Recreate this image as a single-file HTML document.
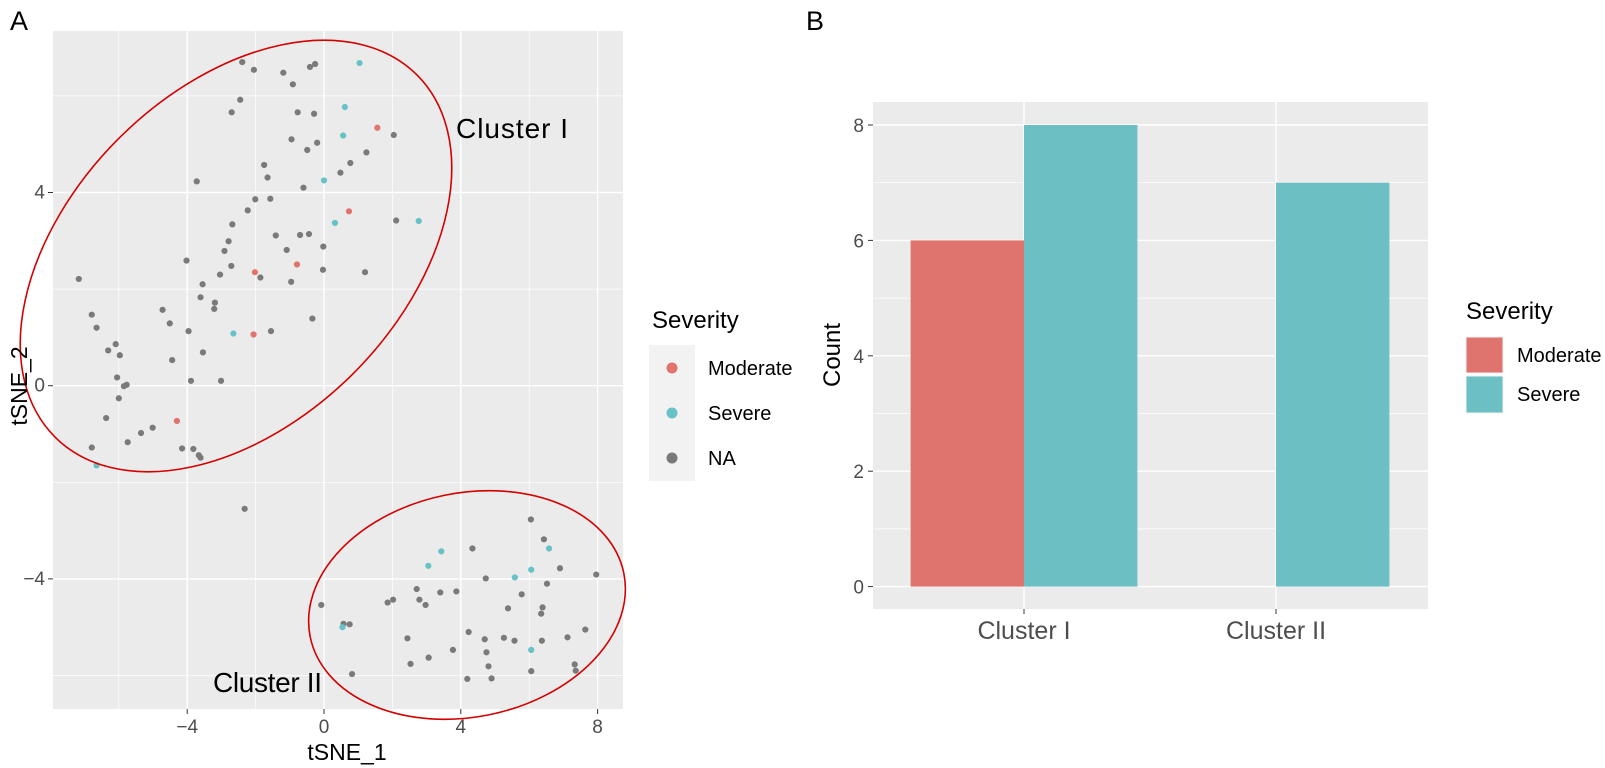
<!DOCTYPE html>
<html><head><meta charset="utf-8"><style>
html,body{margin:0;padding:0;background:#fff;}
svg{display:block;font-family:"Liberation Sans",sans-serif;}
</style></head><body>
<svg id="fig" width="1605" height="768" viewBox="0 0 1605 768" xmlns="http://www.w3.org/2000/svg">
<text x="10" y="30" font-size="27" fill="#000">A</text>
<text x="806" y="30" font-size="27" fill="#000">B</text>
<rect x="53" y="31" width="570" height="678" fill="#EBEBEB"/>
<g id="gA"></g>
<g id="ptsA"></g>
<ellipse cx="236" cy="256" rx="256" ry="166" transform="rotate(-45 236 256)" fill="none" stroke="#D40000" stroke-width="1.6"/>
<ellipse cx="467" cy="605" rx="160" ry="112" transform="rotate(-11.5 467 605)" fill="none" stroke="#D40000" stroke-width="1.6"/>
<text x="456" y="138" font-size="28" fill="#000" textLength="112">Cluster I</text>
<text x="213" y="692" font-size="28" fill="#000" textLength="109">Cluster II</text>
<g id="axA"></g>
<text x="347" y="760" font-size="23" fill="#000" text-anchor="middle">tSNE_1</text>
<text transform="translate(27 386) rotate(-90)" font-size="23" fill="#000" text-anchor="middle">tSNE_2</text>
<g>
<text x="652" y="328" font-size="24" fill="#000">Severity</text>
<rect x="649" y="345" width="46" height="136" fill="#F2F2F2"/>
<circle cx="672" cy="368" r="5.5" fill="#E0736B"/>
<circle cx="672" cy="413" r="5.5" fill="#66C2C6"/>
<circle cx="672" cy="458" r="5.5" fill="#7A7A7A"/>
<text x="708" y="375" font-size="20" fill="#000">Moderate</text>
<text x="708" y="420" font-size="20" fill="#000">Severe</text>
<text x="708" y="465" font-size="20" fill="#000">NA</text>
</g>
<rect x="873" y="102" width="555" height="507" fill="#EBEBEB"/>
<g id="gB"></g>
<g id="barsB"></g>
<g id="axB"></g>
<text transform="translate(840 355) rotate(-90)" font-size="24" fill="#000" text-anchor="middle">Count</text>
<g>
<text x="1466" y="319" font-size="24" fill="#000">Severity</text>
<rect x="1466" y="337" width="37" height="36" fill="#DF746E" stroke="#F2F2F2"/>
<rect x="1466" y="376" width="37" height="37" fill="#6CBFC3" stroke="#F2F2F2"/>
<text x="1517" y="362" font-size="20" fill="#000">Moderate</text>
<text x="1517" y="401" font-size="20" fill="#000">Severe</text>
</g>
</svg>
<script>
// ---- Panel A data (tSNE coordinates) ----
const grayX = [-2.39,-2.05,-1.19,-0.91,-0.41,-0.26,-2.45,-2.70,-0.77,-0.29,-0.95,-0.20,-0.49,2.04,1.24,0.77,0.48,-1.75,-1.65,-3.72,-0.60,-2.01,-1.57,-2.23,-2.68,2.11,-1.41,-0.70,-0.44,-2.79,-2.91,-1.09,-0.02,-4.02,
 -7.17,-2.71,-3.04,-3.55,-1.86,-0.96,-0.03,1.20,-3.61,-3.19,-3.21,-4.72,-6.79,-6.65,-4.51,-3.96,-0.34,-1.55,-6.09,-6.31,-5.97,-3.54,-4.44,-6.05,-3.89,-3.01,-5.85,-5.77,-6.00,-6.37,-5.01,-5.35,-5.74,-6.79,-4.15,-3.82,-3.66,-3.61,-2.32,
 6.05,6.43,4.34,6.90,7.96,4.73,6.52,5.78,2.71,3.40,3.87,-0.08,1.86,2.02,2.79,2.97,5.38,6.39,6.35,0.57,0.75,7.64,4.23,2.44,4.70,5.26,5.57,6.37,7.12,3.77,4.75,3.06,2.53,4.81,0.82,4.19,4.90,6.06,7.33,7.36];
const grayY = [6.70,6.54,6.48,6.24,6.60,6.66,5.92,5.66,5.66,5.63,5.10,5.03,4.88,5.19,4.83,4.61,4.41,4.57,4.31,4.23,4.10,3.86,3.87,3.63,3.34,3.42,3.11,3.12,3.14,2.99,2.79,2.81,2.88,2.59,
 2.21,2.48,2.30,2.10,2.24,2.15,2.40,2.35,1.83,1.72,1.59,1.57,1.47,1.20,1.29,1.13,1.39,1.13,0.86,0.73,0.63,0.69,0.53,0.17,0.10,0.10,-0.01,0.02,-0.26,-0.67,-0.87,-0.98,-1.17,-1.28,-1.30,-1.31,-1.44,-1.49,-2.55,
 -2.77,-3.18,-3.37,-3.78,-3.91,-3.99,-4.10,-4.32,-4.21,-4.28,-4.26,-4.54,-4.49,-4.43,-4.43,-4.54,-4.61,-4.59,-4.72,-4.93,-4.94,-5.05,-5.10,-5.23,-5.25,-5.22,-5.28,-5.28,-5.21,-5.47,-5.52,-5.63,-5.76,-5.81,-5.97,-6.07,-6.06,-5.91,-5.77,-5.90];
const severeX = [1.04,0.61,0.56,0.00,0.32,2.77,-2.65,-6.65,3.43,3.05,6.58,6.06,5.58,0.54,6.06];
const severeY = [6.68,5.77,5.18,4.25,3.37,3.41,1.08,-1.65,-3.43,-3.73,-3.37,-3.81,-3.97,-5.00,-5.47];
const moderateX = [1.56,0.73,-0.79,-2.02,-2.06,-4.30];
const moderateY = [5.34,3.61,2.51,2.35,1.06,-0.73];
const xTicksA = [-4,0,4,8];
const yTicksA = [-4,0,4];
const xMinorA = [-6,-2,2,6];
const yMinorA = [-6,-2,2,6];

// ---- Panel B data ----
const categories = ["Cluster I","Cluster II"];
const moderateCounts = [6,0];
const severeCounts = [8,7];
const yTicksB = [0,2,4,6,8];
const yMinorB = [1,3,5,7];

const NS = "http://www.w3.org/2000/svg";
function mk(tag, attrs, parent){const e=document.createElementNS(NS,tag);for(const k in attrs)e.setAttribute(k,attrs[k]);parent.appendChild(e);return e;}

// scales A
const xA = v => 324 + v*34.2;
const yA = v => 385.7 - v*48.3;
const A = {l:53,t:31,r:623,b:709};
const gA = document.getElementById('gA');
xMinorA.forEach(v=>{const l=mk('line',{x1:xA(v),x2:xA(v),y1:A.t,y2:A.b,stroke:'#fff','stroke-width':0.7},gA);

});
yMinorA.forEach(v=>{const l=mk('line',{x1:A.l,x2:A.r,y1:yA(v),y2:yA(v),stroke:'#fff','stroke-width':0.7},gA);

});
xTicksA.forEach(v=>{const l=mk('line',{x1:xA(v),x2:xA(v),y1:A.t,y2:A.b,stroke:'#fff','stroke-width':1.4},gA);

});
yTicksA.forEach(v=>{const l=mk('line',{x1:A.l,x2:A.r,y1:yA(v),y2:yA(v),stroke:'#fff','stroke-width':1.4},gA);

});
const axA = document.getElementById('axA');
xTicksA.forEach(v=>{const t=mk('line',{x1:xA(v),x2:xA(v),y1:A.b,y2:A.b+5,stroke:'#333','stroke-width':1},axA);


const s=mk('text',{x:xA(v),y:A.b+24,'font-size':19,fill:'#4D4D4D','text-anchor':'middle'},axA);s.textContent=(v<0?'\u2212'+(-v):v);

});
yTicksA.forEach(v=>{const t=mk('line',{x1:A.l-5,x2:A.l,y1:yA(v),y2:yA(v),stroke:'#333','stroke-width':1},axA);


const s=mk('text',{x:A.l-8,y:yA(v)+6,'font-size':19,fill:'#4D4D4D','text-anchor':'end'},axA);s.textContent=(v<0?'\u2212'+(-v):v);

});
const ptsA = document.getElementById('ptsA');
function drawPts(xs,ys,col,name){xs.forEach((v,i)=>{const c=mk('circle',{cx:xA(v),cy:yA(ys[i]),r:3.1,fill:col},ptsA);

});}
drawPts(grayX,grayY,'#7A7A7A','point-na');
drawPts(severeX,severeY,'#66C2C6','point-severe');
drawPts(moderateX,moderateY,'#E0736B','point-moderate');

// scales B
const B = {l:873,t:102,r:1428,b:609};
const yB = v => 586.6 - v*57.7;
const xB = i => 1024 + i*252;
const bw = 0.45*252;
const gB = document.getElementById('gB');
yMinorB.forEach(v=>{const l=mk('line',{x1:B.l,x2:B.r,y1:yB(v),y2:yB(v),stroke:'#fff','stroke-width':0.7},gB);

});
yTicksB.forEach(v=>{const l=mk('line',{x1:B.l,x2:B.r,y1:yB(v),y2:yB(v),stroke:'#fff','stroke-width':1.4},gB);

});
categories.forEach((c,i)=>{const l=mk('line',{x1:xB(i),x2:xB(i),y1:B.t,y2:B.b,stroke:'#fff','stroke-width':1.4},gB);

});
const barsB = document.getElementById('barsB');
categories.forEach((c,i)=>{
 if(moderateCounts[i]>0){const r=mk('rect',{x:xB(i)-bw,y:yB(moderateCounts[i]),width:bw,height:yB(0)-yB(moderateCounts[i]),fill:'#DF746E'},barsB);
 
 }
 if(severeCounts[i]>0){const r=mk('rect',{x:xB(i),y:yB(severeCounts[i]),width:bw,height:yB(0)-yB(severeCounts[i]),fill:'#6CBFC3'},barsB);
 
 }
});
const axB = document.getElementById('axB');
yTicksB.forEach(v=>{const t=mk('line',{x1:B.l-5,x2:B.l,y1:yB(v),y2:yB(v),stroke:'#333','stroke-width':1},axB);


const s=mk('text',{x:B.l-9,y:yB(v)+7,'font-size':19,fill:'#4D4D4D','text-anchor':'end'},axB);s.textContent=v;

});
categories.forEach((c,i)=>{const t=mk('line',{x1:xB(i),x2:xB(i),y1:B.b,y2:B.b+5,stroke:'#333','stroke-width':1},axB);


const s=mk('text',{x:xB(i),y:B.b+30,'font-size':25,fill:'#4D4D4D','text-anchor':'middle'},axB);s.textContent=c;

});
</script>
</body></html>
